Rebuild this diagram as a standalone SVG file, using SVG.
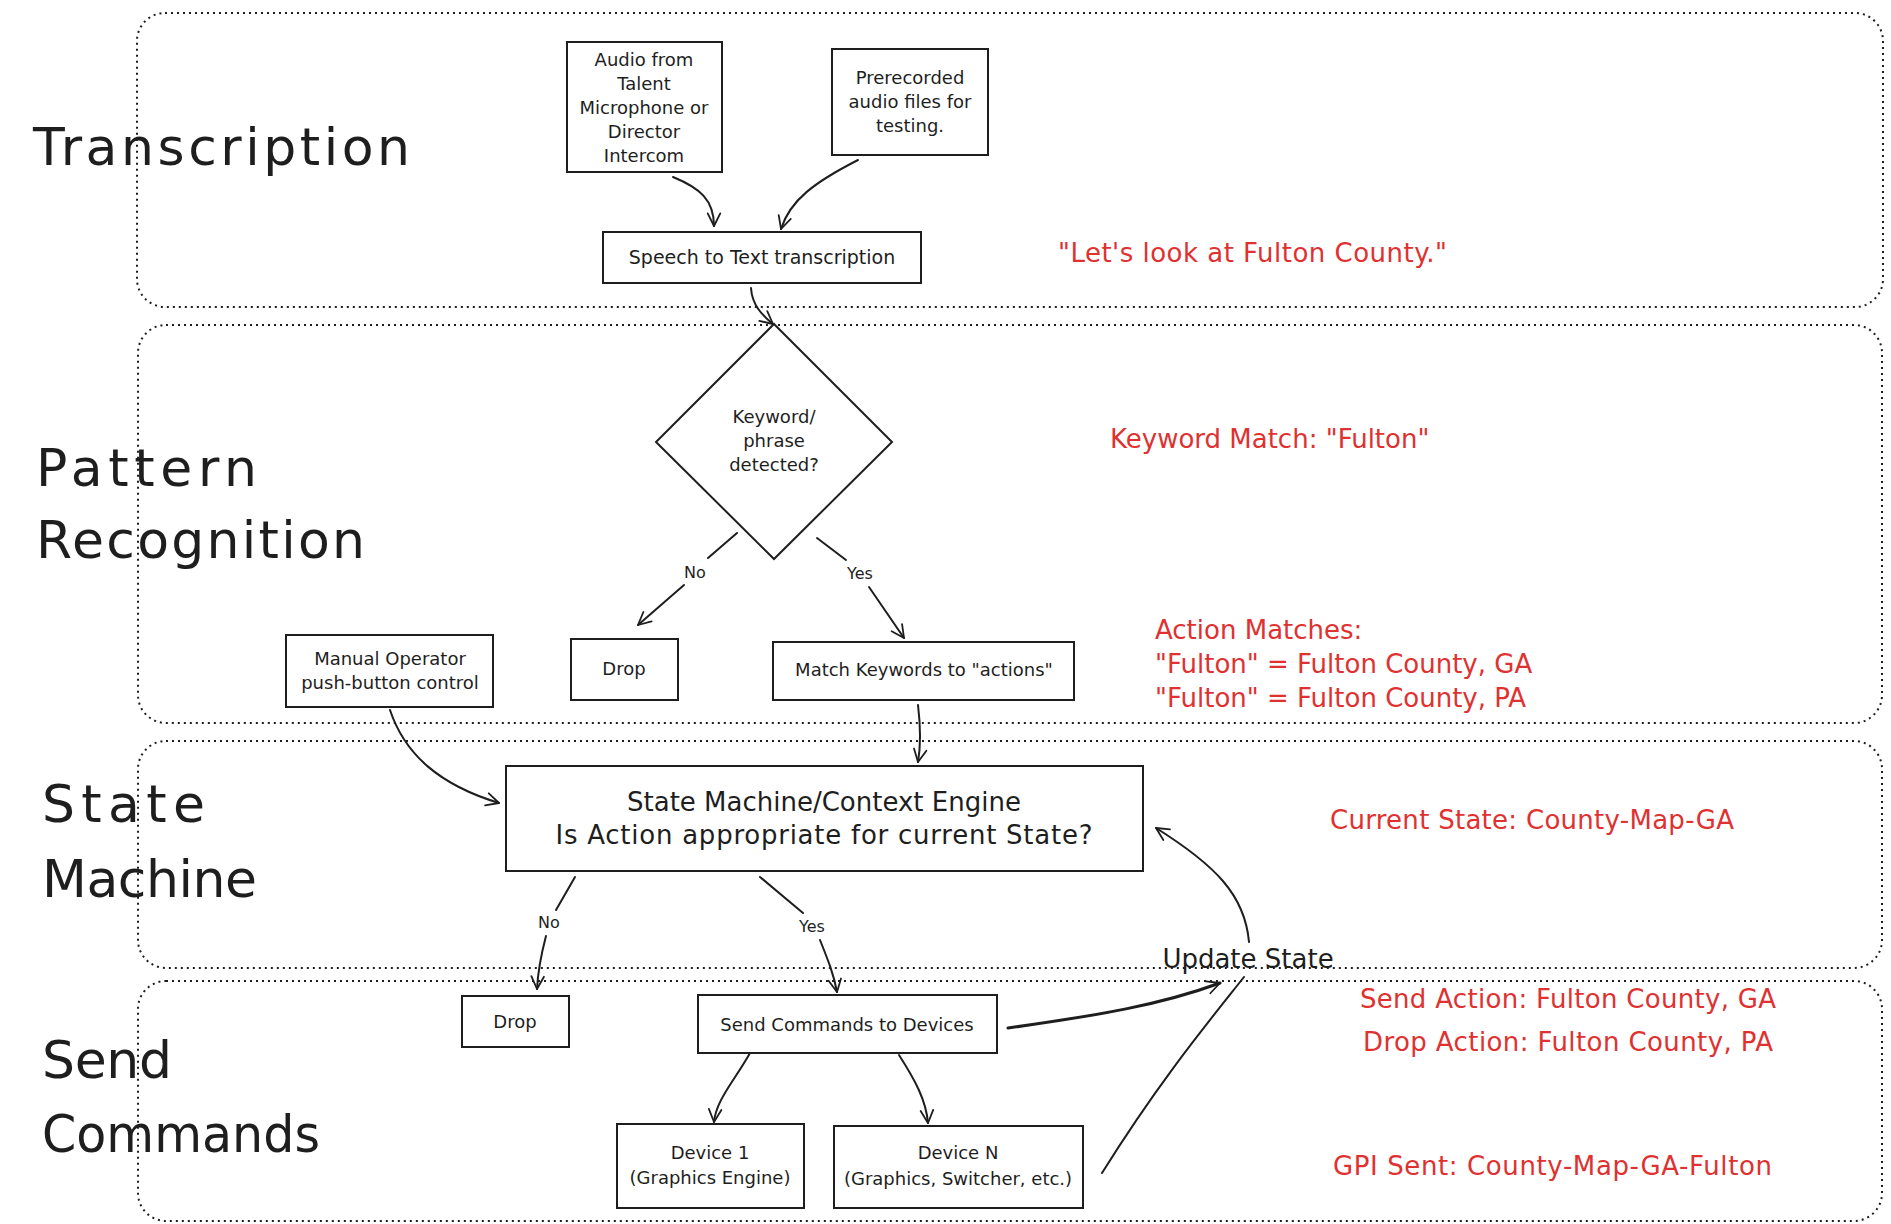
<svg xmlns="http://www.w3.org/2000/svg" width="1891" height="1224" viewBox="0 0 1891 1224">
<style>
.lane{fill:none;stroke:#1e1e1e;stroke-width:2;stroke-dasharray:2 4}
.box{fill:#ffffff;stroke:#1e1e1e;stroke-width:2}
.t{font-family:"DejaVu Sans","Liberation Sans",sans-serif;fill:#1e1e1e;text-anchor:middle;font-size:18px}
.big{font-family:"DejaVu Sans","Liberation Sans",sans-serif;fill:#1e1e1e;font-size:52px}
.red{font-family:"DejaVu Sans","Liberation Sans",sans-serif;fill:#e03131;font-size:26px}
.lbl{font-family:"DejaVu Sans","Liberation Sans",sans-serif;fill:#1e1e1e;text-anchor:middle;font-size:16px}
.edge{fill:none;stroke:#1e1e1e;stroke-width:2;stroke-linecap:round}
.arr{marker-end:url(#ah)}
</style>
<defs>
<marker id="ah" viewBox="0 0 20 20" refX="17" refY="10" markerWidth="18" markerHeight="18" markerUnits="userSpaceOnUse" orient="auto">
<path d="M3,3 L17,10 L3,17" fill="none" stroke="#1e1e1e" stroke-width="2" stroke-linecap="round" stroke-linejoin="round"/>
</marker>
</defs>
<rect width="1891" height="1224" fill="#ffffff"/>
<g id="lanes">
<rect id="lane-transcription" class="lane" x="137" y="13" width="1746" height="294" rx="28"/>
<rect id="lane-pattern" class="lane" x="138" y="325" width="1744" height="398" rx="28"/>
<rect id="lane-state" class="lane" x="138" y="741" width="1744" height="227" rx="28"/>
<rect id="lane-send" class="lane" x="138" y="981" width="1744" height="240" rx="28"/>
</g>
<g id="lane-labels">
<text class="big" x="33" y="165" textLength="377" lengthAdjust="spacing">Transcription</text>
<text class="big" x="36" y="486" textLength="221" lengthAdjust="spacing">Pattern</text>
<text class="big" x="36" y="558" textLength="329" lengthAdjust="spacing">Recognition</text>
<text class="big" x="42" y="822" textLength="163" lengthAdjust="spacing">State</text>
<text class="big" x="42" y="897" textLength="215" lengthAdjust="spacing">Machine</text>
<text class="big" x="42" y="1078" textLength="130" lengthAdjust="spacing">Send</text>
<text class="big" x="42" y="1152" textLength="278" lengthAdjust="spacingAndGlyphs">Commands</text>
</g>
<g id="connectors">
<path class="edge arr" d="M673,177 C700,188 714,200 714,226"/>
<path class="edge arr" d="M858,160 C815,182 790,200 781,229"/>
<path class="edge arr" d="M751,288 C752,305 762,315 773,324"/>
<path class="edge" d="M737,533 L708,558"/>
<path class="edge arr" d="M684,585 L638,625"/>
<path class="edge" d="M817,538 L846,560"/>
<path class="edge arr" d="M869,587 L904,638"/>
<path class="edge arr" d="M918,705 C921,730 921,745 918,762"/>
<path class="edge arr" d="M390,710 C405,755 440,785 499,803"/>
<path class="edge" d="M575,877 L556,910"/>
<path class="edge arr" d="M546,936 C541,955 538,970 537,989"/>
<path class="edge" d="M760,877 L803,913"/>
<path class="edge arr" d="M820,940 C828,960 834,975 837,992"/>
<path class="edge arr" d="M750,1053 C735,1080 716,1100 714,1122"/>
<path class="edge arr" d="M899,1055 C915,1080 926,1100 928,1123"/>
<path class="edge arr" style="stroke-width:3" d="M1008,1028 C1100,1015 1160,1005 1220,983"/>
<path class="edge" d="M1102,1173 C1160,1080 1210,1020 1244,977"/>
<path class="edge arr" d="M1249,942 C1245,895 1215,865 1156,828"/>
<text class="lbl" x="695" y="578">No</text>
<text class="lbl" x="860" y="579">Yes</text>
<text class="lbl" x="549" y="928">No</text>
<text class="lbl" x="812" y="932">Yes</text>
<text class="lbl" x="1248" y="968" style="font-size:26px">Update State</text>
</g>
<g id="audio">
<rect class="box" x="567" y="42" width="155" height="130"/>
<text class="t" x="644" y="66">Audio from</text>
<text class="t" x="644" y="90">Talent</text>
<text class="t" x="644" y="114">Microphone or</text>
<text class="t" x="644" y="138">Director</text>
<text class="t" x="644" y="162">Intercom</text>
</g>
<g id="prerecorded">
<rect class="box" x="832" y="49" width="156" height="106"/>
<text class="t" x="910" y="84">Prerecorded</text>
<text class="t" x="910" y="108">audio files for</text>
<text class="t" x="910" y="132">testing.</text>
</g>
<g id="speech">
<rect class="box" x="603" y="232" width="318" height="51"/>
<text class="t" x="762" y="264" style="font-size:19px">Speech to Text transcription</text>
</g>
<g id="keyword">
<polygon class="box" points="774,324 892,442 774,559 656,442"/>
<text class="t" x="774" y="423">Keyword/</text>
<text class="t" x="774" y="447">phrase</text>
<text class="t" x="774" y="471">detected?</text>
</g>
<g id="drop1">
<rect class="box" x="571" y="639" width="107" height="61"/>
<text class="t" x="624" y="675">Drop</text>
</g>
<g id="match">
<rect class="box" x="773" y="642" width="301" height="58"/>
<text class="t" x="924" y="676">Match Keywords to "actions"</text>
</g>
<g id="manual">
<rect class="box" x="286" y="635" width="207" height="72"/>
<text class="t" x="390" y="665">Manual Operator</text>
<text class="t" x="390" y="689">push-button control</text>
</g>
<g id="statemachine">
<rect class="box" x="506" y="766" width="637" height="105"/>
<text class="t" x="824" y="811" style="font-size:26px">State Machine/Context Engine</text>
<text class="t" x="824" y="844" style="font-size:26px" textLength="537" lengthAdjust="spacing">Is Action appropriate for current State?</text>
</g>
<g id="drop2">
<rect class="box" x="462" y="996" width="107" height="51"/>
<text class="t" x="515" y="1028">Drop</text>
</g>
<g id="send">
<rect class="box" x="698" y="995" width="299" height="58"/>
<text class="t" x="847" y="1031">Send Commands to Devices</text>
</g>
<g id="device1">
<rect class="box" x="617" y="1124" width="187" height="84"/>
<text class="t" x="710" y="1159">Device 1</text>
<text class="t" x="710" y="1184">(Graphics Engine)</text>
</g>
<g id="deviceN">
<rect class="box" x="834" y="1126" width="249" height="82"/>
<text class="t" x="958" y="1159">Device N</text>
<text class="t" x="958" y="1185">(Graphics, Switcher, etc.)</text>
</g>
<g id="annotations">
<text class="red" x="1058" y="262" textLength="389" lengthAdjust="spacing">"Let's look at Fulton County."</text>
<text class="red" x="1110" y="448">Keyword Match: "Fulton"</text>
<text class="red" x="1155" y="639">Action Matches:</text>
<text class="red" x="1155" y="673">"Fulton" = Fulton County, GA</text>
<text class="red" x="1155" y="707">"Fulton" = Fulton County, PA</text>
<text class="red" x="1330" y="829" textLength="404" lengthAdjust="spacing">Current State: County-Map-GA</text>
<text class="red" x="1360" y="1008" textLength="416" lengthAdjust="spacing">Send Action: Fulton County, GA</text>
<text class="red" x="1363" y="1051" textLength="410" lengthAdjust="spacing">Drop Action: Fulton County, PA</text>
<text class="red" x="1333" y="1175" textLength="439" lengthAdjust="spacing">GPI Sent: County-Map-GA-Fulton</text>
</g>
</svg>
